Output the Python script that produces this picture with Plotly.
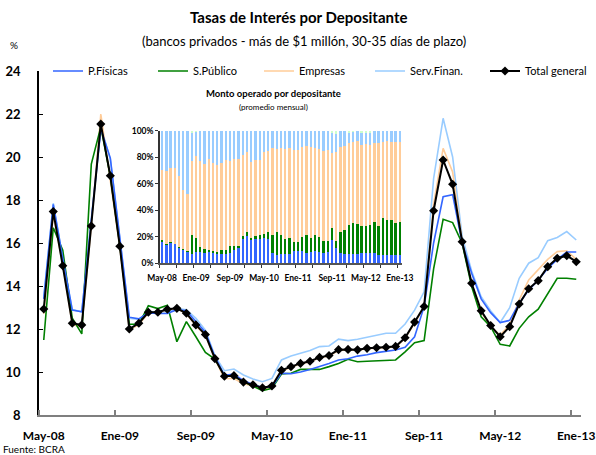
import plotly.graph_objects as go

months = ["May-08","Jun-08","Jul-08","Ago-08","Sep-08","Oct-08","Nov-08","Dic-08",
          "Ene-09","Feb-09","Mar-09","Abr-09","May-09","Jun-09","Jul-09","Ago-09",
          "Sep-09","Oct-09","Nov-09","Dic-09","Ene-10","Feb-10","Mar-10","Abr-10",
          "May-10","Jun-10","Jul-10","Ago-10","Sep-10","Oct-10","Nov-10","Dic-10",
          "Ene-11","Feb-11","Mar-11","Abr-11","May-11","Jun-11","Jul-11","Ago-11",
          "Sep-11","Oct-11","Nov-11","Dic-11","Ene-12","Feb-12","Mar-12","Abr-12",
          "May-12","Jun-12","Jul-12","Ago-12","Sep-12","Oct-12","Nov-12","Dic-12",
          "Ene-13"]
tick_labels = ["May-08","Ene-09","Sep-09","May-10","Ene-11","Sep-11","May-12","Ene-13"]

p_fisicas = [13.4,17.8,15.3,12.88,12.8,16.9,21.3,19.95,16.2,12.55,12.47,12.75,12.72,12.72,12.9,12.85,
             12.35,11.85,10.7,9.85,9.9,9.6,9.42,9.28,9.3,9.95,9.92,10.0,10.12,10.25,10.4,10.56,
             10.62,10.74,10.8,10.9,10.95,11.02,11.15,11.64,13.04,16.0,18.15,18.25,16.0,14.59,13.4,12.76,
             12.3,12.4,13.2,13.81,14.28,14.82,15.24,15.58,15.58]
s_publico = [11.49,16.71,15.67,12.5,11.77,19.67,21.4,19.1,15.9,12.22,12.22,13.08,12.95,13.1,11.41,12.34,
             11.64,10.91,10.6,9.85,9.8,9.55,9.35,9.13,9.24,9.91,9.94,10.12,10.12,10.12,10.25,10.4,
             10.59,10.48,10.5,10.52,10.54,10.56,10.94,11.36,11.46,14.8,17.1,16.95,15.99,13.97,12.57,12.11,
             11.29,11.21,12.03,12.57,12.92,13.66,14.36,14.36,14.31]
empresas = [12.7,17.3,15.0,12.2,12.1,16.8,22.0,19.0,15.8,11.95,12.2,12.75,12.75,12.9,12.95,12.7,
            12.15,11.7,10.6,9.7,9.7,9.45,9.35,9.2,9.3,10.05,10.2,10.38,10.48,10.66,10.75,11.0,
            11.02,11.0,11.08,11.1,11.12,11.17,11.56,12.3,13.0,17.8,20.4,19.3,16.1,14.1,12.8,12.1,
            11.72,12.2,13.35,14.28,14.74,15.24,15.6,15.64,15.24]
serv_finan = [13.5,17.85,15.3,12.9,12.8,17.0,21.4,19.9,16.3,12.5,12.45,12.8,12.8,12.8,12.95,12.9,
              12.5,11.95,10.75,10.06,10.14,9.86,9.67,9.55,9.7,10.56,10.74,10.86,11.0,11.18,11.21,11.53,
              11.46,11.52,11.61,11.71,11.8,11.8,12.23,12.88,13.73,19.0,21.8,20.0,16.3,14.7,13.5,12.85,
              12.3,12.99,14.36,15.06,15.32,16.11,16.26,16.53,16.14]
total_general = [12.93,17.46,14.94,12.27,12.19,16.79,21.53,19.13,15.85,12.0,12.27,12.78,12.78,12.92,12.96,12.73,
                 12.19,11.74,10.62,9.8,9.83,9.53,9.41,9.27,9.35,10.08,10.25,10.4,10.5,10.68,10.77,11.04,
                 11.05,11.03,11.1,11.13,11.15,11.19,11.59,12.32,13.05,17.5,19.86,18.73,16.06,14.13,12.85,12.16,
                 11.64,12.11,13.16,13.87,14.25,14.9,15.29,15.41,15.13]

# inset: share of amount traded (%)
sh_pf = [16.4,13.9,15.5,14.6,11.8,10.1,8.8,6.8,8.8,8.8,7.8,8.8,7.8,7.3,7.3,7.3,
         8.1,10.1,11.8,18.4,20.7,17.6,18.4,18.4,19.4,18.6,8.1,6.0,7.1,7.1,7.1,9.3,
         9.3,9.3,8.1,8.8,9.3,8.8,8.1,8.8,17.6,11.8,7.6,7.1,6.8,6.8,6.8,7.6,
         7.6,7.6,7.6,6.3,6.3,6.3,6.3,6.3,6.3]
sh_sp = [1.2,0.5,0.3,0.2,0.2,0.5,0.5,14.6,10.6,3.8,3.0,1.3,1.5,1.3,2.8,2.8,
         5.0,3.0,1.3,2.3,3.0,1.8,2.3,3.0,2.8,4.8,13.3,17.7,14.3,11.3,12.3,6.8,
         6.8,10.9,13.3,10.6,12.1,11.4,9.0,8.3,9.4,5.3,16.3,18.1,22.2,23.4,22.7,20.9,
         20.4,21.1,23.4,21.9,27.7,26.4,26.4,23.9,24.7]
sh_emp = [52.9,55.4,56.5,57.2,54.0,44.8,43.1,55.9,61.7,64.7,64.5,68.5,66.8,65.5,66.0,68.0,
          64.2,65.7,65.7,61.4,60.7,57.4,57.4,56.9,62.2,61.7,65.5,62.4,65.5,67.7,68.0,69.5,
          69.5,67.5,67.3,68.3,65.5,65.9,68.0,68.8,56.1,67.3,64.3,63.5,61.7,61.5,62.7,60.9,
          62.2,61.0,59.7,62.5,57.7,59.5,59.0,61.2,60.4]
sh_sf = [29.5,30.2,27.7,28.0,34.0,44.6,47.6,21.7,18.4,22.7,24.7,21.4,23.9,25.9,23.9,21.9,
         22.7,21.2,21.2,17.9,15.6,23.2,21.9,21.7,15.6,14.9,13.1,13.9,13.1,13.9,12.6,14.4,
         14.4,12.3,11.3,12.3,13.1,13.9,14.9,14.1,15.4,13.6,11.8,11.3,8.3,7.8,7.8,9.1,
         8.3,9.3,9.3,9.3,8.3,7.8,8.3,8.6,8.6]
sh_otros = [0,0,0,0,0,0,0,1.0,0.5,0,0,0,0,0,0,0,
            0,0,0,0,0,0,0,0,0,0,0,0,0,0,0,0,
            0,0,0,0,0,0,0,0,1.5,2.0,0,0,1.0,0.5,0,1.5,
            1.5,1.0,0,0,0,0,0,0,0]

C_PF = "#3366FF"
C_SP = "#008000"
C_EMP = "#FFCC99"
C_SF = "#99CCFF"
FONT = "Lato"

n = len(months)
xi = list(range(n))
tick_pos = [months.index(t) for t in tick_labels]

L, R, T, B = 39, 15, 71, 40
W, H = 596, 455
pw, ph = W - L - R, H - T - B

fig = go.Figure()

fig.add_trace(go.Scatter(x=xi, y=serv_finan, name="Serv.Finan.", mode="lines",
                         line=dict(color=C_SF, width=1.6), legend="legend4"))
fig.add_trace(go.Scatter(x=xi, y=empresas, name="Empresas", mode="lines",
                         line=dict(color=C_EMP, width=1.6), legend="legend3"))
fig.add_trace(go.Scatter(x=xi, y=s_publico, name="S.Público", mode="lines",
                         line=dict(color=C_SP, width=1.6), legend="legend2"))
fig.add_trace(go.Scatter(x=xi, y=p_fisicas, name="P.Físicas", mode="lines",
                         line=dict(color=C_PF, width=1.6), legend="legend"))
fig.add_trace(go.Scatter(x=xi, y=total_general, name="Total general", mode="lines+markers",
                         line=dict(color="black", width=2),
                         marker=dict(symbol="diamond", size=7, color="black"), legend="legend5"))

for vals, col in [(sh_pf, C_PF), (sh_sp, C_SP), (sh_emp, C_EMP), (sh_sf, C_SF), (sh_otros, "#CCFFCC")]:
    fig.add_trace(go.Bar(x=xi, y=vals, marker=dict(color=col, line=dict(width=0)),
                         xaxis="x2", yaxis="y2", showlegend=False, hoverinfo="skip"))

def leg(px):
    return dict(orientation="h", x=(px - L) / pw, xanchor="left", y=1.0, yanchor="middle",
                font=dict(size=11, family=FONT), bgcolor="rgba(0,0,0,0)", itemwidth=30)

fig.update_layout(
    width=W, height=H,
    margin=dict(l=L, r=R, t=T, b=B, autoexpand=False),
    paper_bgcolor="white", plot_bgcolor="white",
    font=dict(family=FONT, color="black"),
    barmode="stack", bargap=0.45,
    showlegend=True,
    legend=leg(48), legend2=leg(153), legend3=leg(259), legend4=leg(370), legend5=leg(485),
    xaxis=dict(range=[-0.5, n - 0.5], tickvals=tick_pos, ticktext=tick_labels,
               ticks="", showline=True, linecolor="#7f7f7f", linewidth=2,
               showgrid=False, zeroline=False, automargin=False,
               tickfont=dict(size=12, family=FONT, weight="bold"),
               ticklabelstandoff=9,
               minor=dict(tickvals=[p - 0.5 for p in tick_pos], ticks="inside",
                          ticklen=5, tickcolor="#7f7f7f", tickwidth=1.5)),
    yaxis=dict(range=[8, 24], tickvals=list(range(8, 25, 2)), ticks="inside",
               ticklen=4, tickcolor="black", showline=True, linecolor="black",
               linewidth=1.5, showgrid=False, zeroline=False, automargin=False,
               tickfont=dict(size=13, family=FONT, weight="bold"),
               ticklabelstandoff=14),
    xaxis2=dict(domain=[0.2232, 0.6697], anchor="y2", range=[-0.5, n - 0.5],
                tickvals=tick_pos, ticktext=tick_labels, ticks="",
                showline=True, linecolor="#555555", linewidth=1.5,
                showgrid=False, zeroline=False,
                tickfont=dict(size=8.5, family=FONT, weight="bold"),
                ticklabelstandoff=6,
                minor=dict(tickvals=[p - 0.5 for p in range(0, n + 1, 4)], ticks="outside",
                           ticklen=3, tickcolor="#333333", tickwidth=1)),
    yaxis2=dict(domain=[0.441, 0.8256], anchor="x2", range=[0, 100],
                tickvals=[0, 20, 40, 60, 80, 100],
                ticktext=["0%", "20%", "40%", "60%", "80%", "100%"],
                ticks="outside", ticklen=3, tickcolor="#333333",
                showline=True, linecolor="#333333", linewidth=1.5,
                showgrid=False, zeroline=False,
                tickfont=dict(size=8.5, family=FONT, weight="bold")),
    annotations=[
        dict(text="<b>Tasas de Interés por Depositante</b>", x=298, y=17,
             showarrow=False, font=dict(size=15, family=FONT)),
        dict(text="(bancos privados - más de $1 millón, 30-35 días de plazo)", x=304, y=41,
             showarrow=False, font=dict(size=13, family=FONT)),
        dict(text="%", x=14, y=45, showarrow=False, font=dict(size=10, family=FONT)),
        dict(text="<b>Monto operado por depositante</b>", x=273, y=93, showarrow=False,
             font=dict(size=9.5, family=FONT)),
        dict(text="(promedio mensual)", x=273, y=107, showarrow=False,
             font=dict(size=8, family=FONT)),
        dict(text="Fuente: BCRA", x=1, y=449, xanchor="left", showarrow=False,
             font=dict(size=10, family=FONT)),
    ],
)

anns = []
for a in fig.layout.annotations:
    a = a.to_plotly_json()
    px, py = a["x"], a["y"]
    a["x"] = (px - L) / pw
    a["y"] = (H - B - py) / ph
    a["xref"] = "paper"
    a["yref"] = "paper"
    a.setdefault("xanchor", "center")
    a["yanchor"] = "middle"
    anns.append(a)
fig.layout.annotations = anns

fig.write_html("out.html", config={"displayModeBar": False},
               post_script="document.body.style.margin='0px';document.body.style.overflow='hidden';")
